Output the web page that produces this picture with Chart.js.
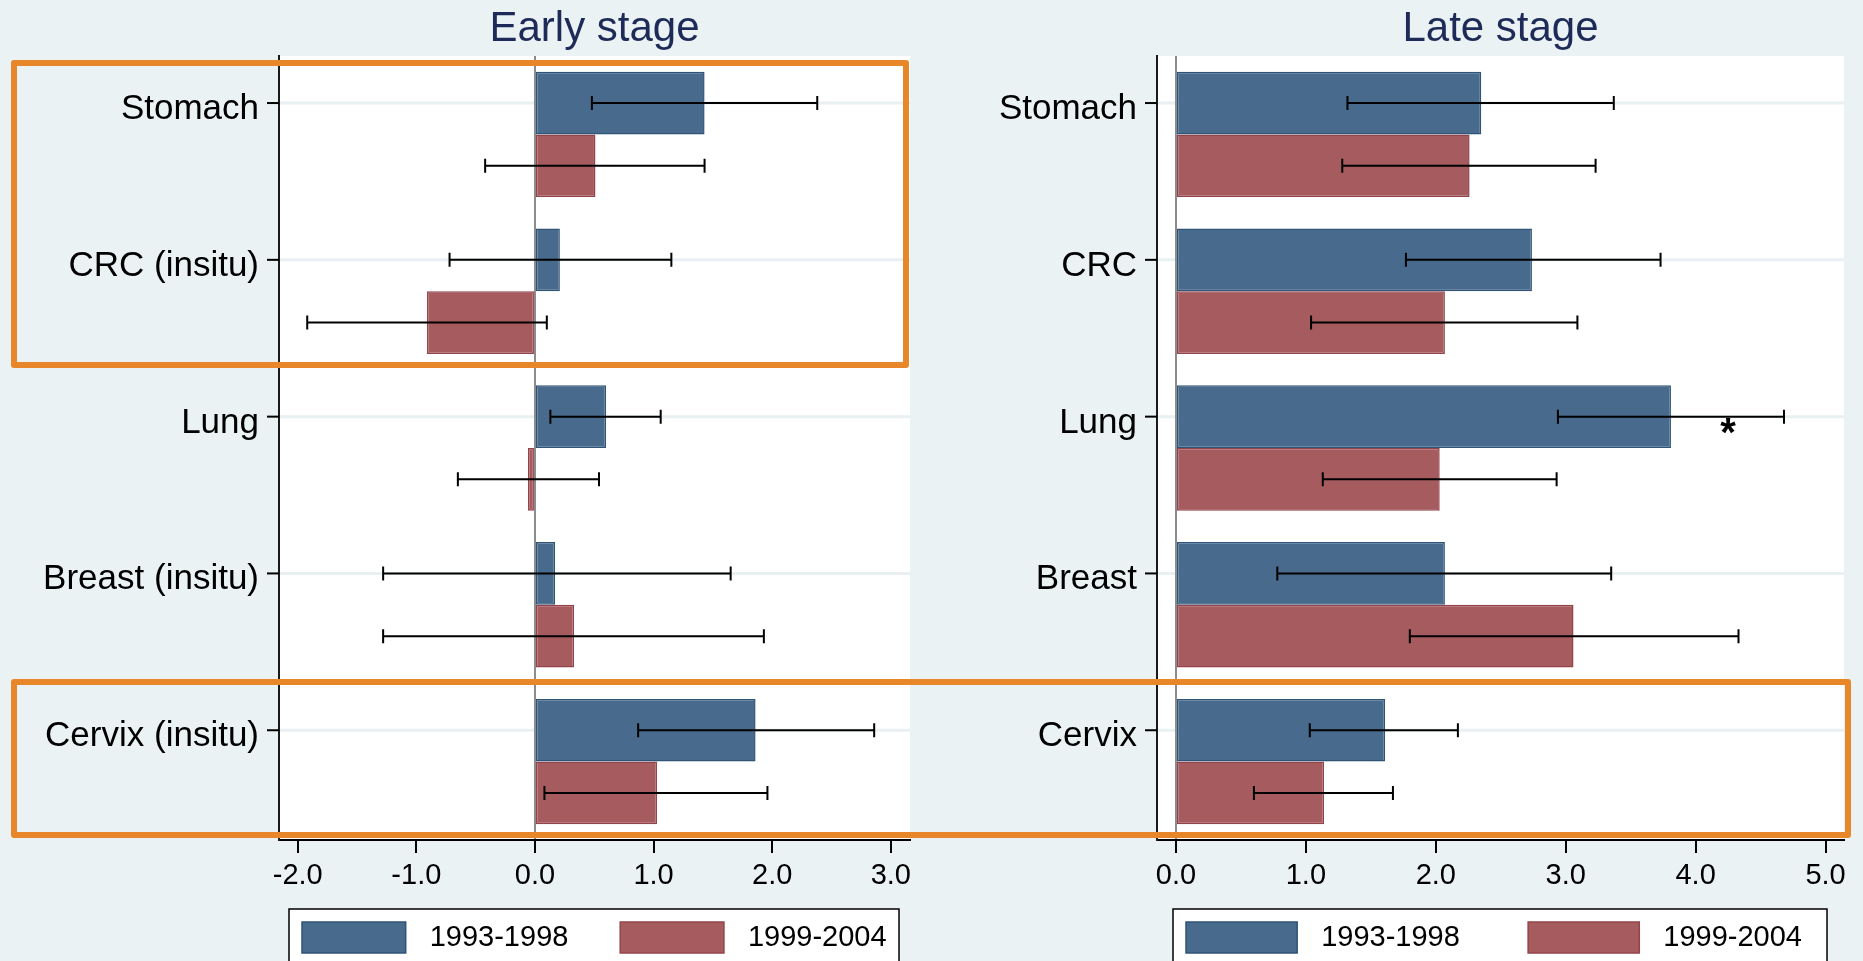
<!DOCTYPE html>
<html>
<head>
<meta charset="utf-8">
<title>Early and late stage</title>
<script src="https://cdn.jsdelivr.net/npm/chart.js@4.4.1/dist/chart.umd.min.js"></script>
<style>
  html, body { margin: 0; padding: 0; width: 1863px; height: 961px; overflow: hidden; background: #eaf2f3; }
  .panel { position: absolute; top: 0; height: 1000px; }
  #earlyPanel { left: 0; width: 930px; }
  #latePanel { left: 930px; width: 933px; }
  .frame { position: absolute; box-sizing: border-box; border: 6px solid #e8862a; border-radius: 3px; pointer-events: none; }
</style>
</head>
<body>
<div class="panel" id="earlyPanel"><canvas id="earlyChart"></canvas></div>
<div class="panel" id="latePanel"><canvas id="lateChart"></canvas></div>
<div class="frame" style="left:11px; top:60px; width:898px; height:308px;"></div>
<div class="frame" style="left:11px; top:679px; width:1840px; height:159px;"></div>
<script>
// Categories and periods
const earlyCats = ['Stomach', 'CRC (insitu)', 'Lung', 'Breast (insitu)', 'Cervix (insitu)'];
const lateCats = ['Stomach', 'CRC', 'Lung', 'Breast', 'Cervix'];
const periods = ['1993-1998', '1999-2004'];

// Early stage: estimates with lower / upper bounds
const early9398 = [1.43, 0.21, 0.60, 0.17, 1.86];
const early9398Lo = [0.48, -0.72, 0.13, -1.28, 0.87];
const early9398Hi = [2.38, 1.15, 1.06, 1.65, 2.86];
const early9904 = [0.51, -0.91, -0.06, 0.33, 1.03];
const early9904Lo = [-0.42, -1.92, -0.65, -1.28, 0.08];
const early9904Hi = [1.43, 0.10, 0.54, 1.93, 1.96];

// Late stage
const late9398 = [2.35, 2.74, 3.81, 2.07, 1.61];
const late9398Lo = [1.32, 1.77, 2.94, 0.78, 1.03];
const late9398Hi = [3.37, 3.73, 4.68, 3.35, 2.17];
const late9904 = [2.26, 2.07, 2.03, 3.06, 1.14];
const late9904Lo = [1.28, 1.04, 1.13, 1.80, 0.60];
const late9904Hi = [3.23, 3.09, 2.93, 4.33, 1.67];

// significance marker (x position) per category, 1993-1998 late stage
const lateStars = [null, null, 4.25, null, null];

const earlyTicks = [-2, -1, 0, 1, 2, 3];
const lateTicks = [0, 1, 2, 3, 4, 5];

const FONT = "'Liberation Sans', Arial, sans-serif";
const BLUE = '#476a8d', BLUE_EDGE = '#2f5478';
const RED = '#a65c5f', RED_EDGE = '#94434a';

// plot background, row lines, error bars, marks and the framed legend
const panelPlugin = {
    id: 'panel',
    beforeDraw(chart) {
        const { ctx, chartArea: a } = chart;
        ctx.save();
        ctx.fillStyle = '#fff';
        ctx.fillRect(a.left, a.top, a.right - a.left, a.bottom - a.top);
        ctx.strokeStyle = '#e9f0f2';
        ctx.lineWidth = 3;
        chart.getDatasetMeta(0).data.forEach(bar => {
            ctx.beginPath();
            ctx.moveTo(a.left, bar.y);
            ctx.lineTo(a.right, bar.y);
            ctx.stroke();
        });
        ctx.restore();
    },
    afterDatasetsDraw(chart) {
        const { ctx, chartArea: a } = chart;
        const xs = chart.scales.x;
        ctx.save();
        ctx.strokeStyle = '#000';
        ctx.lineWidth = 2;

        // tick marks next to the labels
        chart.getDatasetMeta(0).data.forEach(bar => {
            ctx.beginPath();
            ctx.moveTo(a.left - 12, bar.y);
            ctx.lineTo(a.left, bar.y);
            ctx.stroke();
        });

        chart.data.datasets.forEach((ds, i) => {
            chart.getDatasetMeta(i).data.forEach((bar, j) => {
                const x1 = xs.getPixelForValue(ds.errLo[j]);
                const x2 = xs.getPixelForValue(ds.errHi[j]);
                const y = bar.y;
                ctx.beginPath();
                ctx.moveTo(x1, y); ctx.lineTo(x2, y);
                ctx.moveTo(x1, y - 7); ctx.lineTo(x1, y + 7);
                ctx.moveTo(x2, y - 7); ctx.lineTo(x2, y + 7);
                ctx.stroke();

                if (ds.stars && ds.stars[j] != null) {
                    ctx.fillStyle = '#000';
                    ctx.font = 'bold 40px ' + FONT;
                    ctx.textAlign = 'center';
                    ctx.textBaseline = 'alphabetic';
                    ctx.fillText('*', xs.getPixelForValue(ds.stars[j]), y + 29);
                }
            });
        });
        ctx.restore();
    },
    afterDraw(chart, args, opts) {
        const { ctx, chartArea: a } = chart;
        const boxL = a.left + opts.inset[0];
        const boxR = a.right - opts.inset[1];
        const boxW = boxR - boxL;
        const top = a.bottom + 69;
        const mid = (boxL + boxR) / 2;
        ctx.save();
        ctx.fillStyle = '#fff';
        ctx.fillRect(boxL, top, boxW, chart.height - top + 10);
        ctx.strokeStyle = '#000';
        ctx.lineWidth = 1.5;
        ctx.strokeRect(boxL, top, boxW, chart.height - top + 10);

        chart.data.datasets.forEach((ds, i) => {
            const sx = i === 0 ? boxL + 13 : mid + 0.043 * boxW;
            const sw = 0.17 * boxW;
            const sy = top + 13;
            ctx.fillStyle = ds.backgroundColor;
            ctx.fillRect(sx, sy, sw, 31);
            ctx.strokeStyle = ds.borderColor;
            ctx.lineWidth = 1.5;
            ctx.strokeRect(sx, sy, sw, 31);
            ctx.fillStyle = '#000';
            ctx.font = '29px ' + FONT;
            ctx.textAlign = 'left';
            ctx.textBaseline = 'middle';
            ctx.fillText(ds.label, sx + sw + 24, sy + 16);
        });
        ctx.restore();
    }
};

function makeChart(id, title, cats, sets, range, ticks, yWidth, padRight, inset) {
    const ctx = document.getElementById(id).getContext('2d');
    const colors = [[BLUE, BLUE_EDGE], [RED, RED_EDGE]];

    return new Chart(ctx, {
        type: 'bar',
        data: {
            labels: cats,
            datasets: sets.map((s, i) => ({
                label: periods[i],
                data: s.values,
                errLo: s.lo,
                errHi: s.hi,
                stars: s.stars,
                backgroundColor: colors[i][0],
                borderColor: colors[i][1],
                borderWidth: 1.5,
                borderSkipped: false,
                categoryPercentage: 0.8,
                barPercentage: 1
            }))
        },
        options: {
            indexAxis: 'y',
            responsive: true,
            maintainAspectRatio: false,
            animation: false,
            layout: {
                autoPadding: false,
                padding: { left: 0, right: padRight, top: 0, bottom: 100 }
            },
            plugins: {
                legend: { display: false },
                tooltip: { enabled: false },
                title: {
                    display: true,
                    text: title,
                    fullSize: false,
                    color: '#1e2b58',
                    font: { size: 42, family: FONT, weight: 'normal', lineHeight: 1.15 },
                    padding: { top: 5, bottom: 2.7 }
                },
                panel: { inset: inset }
            },
            scales: {
                x: {
                    type: 'linear',
                    min: range[0],
                    max: range[1],
                    afterBuildTicks: s => { s.ticks = ticks.map(v => ({ value: v })); },
                    afterFit: s => { s.height = 60; },
                    grid: {
                        color: c => (c.tick && c.tick.value === 0) ? '#8c8c8c' : 'rgba(0,0,0,0)',
                        lineWidth: 2,
                        tickColor: '#000',
                        tickWidth: 2,
                        tickLength: 13
                    },
                    border: { display: true, color: '#000', width: 2 },
                    ticks: {
                        font: { size: 29, family: FONT },
                        color: '#000',
                        padding: 6,
                        maxRotation: 0,
                        autoSkip: false,
                        callback: v => v.toFixed(1)
                    }
                },
                y: {
                    type: 'category',
                    afterFit: s => { s.width = yWidth; },
                    grid: {
                        drawOnChartArea: false,
                        tickColor: 'rgba(0,0,0,0)',
                        tickLength: 12
                    },
                    border: { display: true, color: '#1a1a1a', width: 2 },
                    ticks: {
                        font: { size: 35, family: FONT },
                        color: '#000',
                        padding: 8,
                        labelOffset: -25,
                        autoSkip: false
                    }
                }
            }
        },
        plugins: [panelPlugin]
    });
}

document.addEventListener('DOMContentLoaded', () => {
    makeChart('earlyChart', 'Early stage', earlyCats, [
        { values: early9398, lo: early9398Lo, hi: early9398Hi },
        { values: early9904, lo: early9904Lo, hi: early9904Hi }
    ], [-2.158, 3.162], earlyTicks, 279, 20, [10, 11]);

    makeChart('lateChart', 'Late stage', lateCats, [
        { values: late9398, lo: late9398Lo, hi: late9398Hi, stars: lateStars },
        { values: late9904, lo: late9904Lo, hi: late9904Hi }
    ], [-0.146, 5.142], lateTicks, 227, 19, [16, 17]);
});
</script>
</body>
</html>
